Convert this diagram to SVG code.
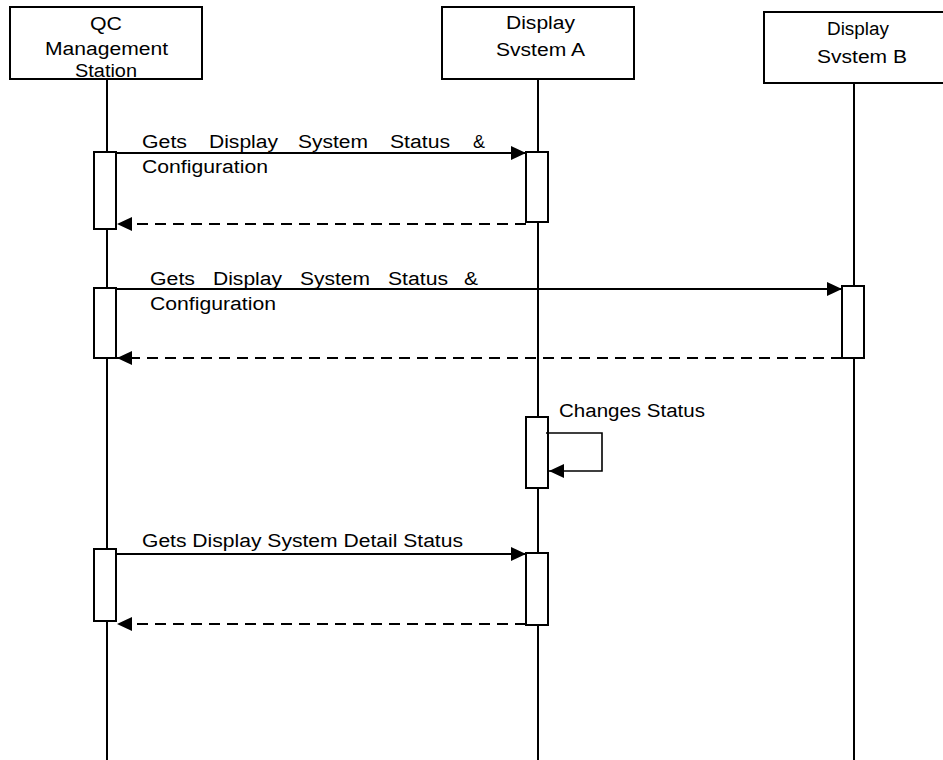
<svg xmlns="http://www.w3.org/2000/svg" width="943" height="760" viewBox="0 0 943 760">
<style>
  .box { fill: #ffffff; stroke: #000000; stroke-width: 2; }
  .life { stroke: #000000; stroke-width: 2; }
  .act { fill: #ffffff; stroke: #000000; stroke-width: 2; }
  .msg { stroke: #000000; stroke-width: 2; fill: none; marker-end: url(#arrow); }
  .self { stroke: #000000; stroke-width: 1.6; fill: none; marker-end: url(#arrow); }
  .ret { stroke: #000000; stroke-width: 2; fill: none; stroke-dasharray: 11 7; marker-end: url(#arrow); }
  .t { font-family: "Liberation Sans", Arial, sans-serif; font-size: 18px; fill: #000000; }
  .c { text-anchor: middle; }
</style>
<defs>
  <marker id="arrow" markerUnits="userSpaceOnUse" markerWidth="15" markerHeight="14" refX="15" refY="7" orient="auto">
    <path d="M0,0 L15,7 L0,14 z" fill="#000000"/>
  </marker>
</defs>
<rect width="943" height="760" fill="#ffffff"/>

<g id="qc-station">
  <line class="life" x1="107" y1="79" x2="107" y2="760"/>
  <rect class="box" x="10" y="7" width="192" height="72"/>
  <text class="t c" x="106" y="30" textLength="32" lengthAdjust="spacingAndGlyphs">QC</text>
  <text class="t c" x="106.5" y="55" textLength="123" lengthAdjust="spacingAndGlyphs">Management</text>
  <text class="t c" x="106" y="77" textLength="62" lengthAdjust="spacingAndGlyphs">Station</text>
</g>

<g id="display-a">
  <line class="life" x1="538" y1="79" x2="538" y2="760"/>
  <rect class="box" x="442" y="7" width="192" height="72"/>
  <text class="t c" x="540.5" y="29" textLength="69" lengthAdjust="spacingAndGlyphs">Display</text>
  <text class="t c" x="540.5" y="56" textLength="89" lengthAdjust="spacingAndGlyphs">Svstem A</text>
</g>

<g id="display-b">
  <line class="life" x1="854" y1="83" x2="854" y2="760"/>
  <rect class="box" x="764" y="12" width="200" height="71"/>
  <text class="t c" x="858" y="35" textLength="62" lengthAdjust="spacingAndGlyphs">Display</text>
  <text class="t c" x="862" y="63" textLength="90" lengthAdjust="spacingAndGlyphs">Svstem B</text>
</g>

<g id="activations">
  <rect class="act" x="94" y="152" width="22" height="77"/>
  <rect class="act" x="526" y="152" width="22" height="70"/>
  <rect class="act" x="94" y="288" width="22" height="70"/>
  <rect class="act" x="842" y="286" width="22" height="72"/>
  <rect class="act" x="526" y="417" width="22" height="71"/>
  <rect class="act" x="94" y="549" width="22" height="72"/>
  <rect class="act" x="526" y="553" width="22" height="72"/>
</g>

<g id="connectors">
  <line class="msg" x1="117" y1="153" x2="526" y2="153"/>
  <line class="ret" x1="526" y1="224" x2="117" y2="224"/>
  <line class="msg" x1="117" y1="289" x2="842" y2="289"/>
  <line class="ret" x1="842" y1="358" x2="117" y2="358"/>
  <polyline class="self" points="546,433 602,433 602,471 549,471"/>
  <line class="msg" x1="117" y1="554" x2="526" y2="554"/>
  <line class="ret" x1="526" y1="624" x2="117" y2="624"/>
</g>

<g id="labels">
  <text class="t" y="148"><tspan x="142" textLength="45" lengthAdjust="spacingAndGlyphs">Gets</tspan><tspan x="209" textLength="69" lengthAdjust="spacingAndGlyphs">Display</tspan><tspan x="298" textLength="70" lengthAdjust="spacingAndGlyphs">System</tspan><tspan x="390" textLength="60" lengthAdjust="spacingAndGlyphs">Status</tspan><tspan x="473" textLength="12" lengthAdjust="spacingAndGlyphs">&amp;</tspan></text>
  <text class="t" x="142" y="173" textLength="126" lengthAdjust="spacingAndGlyphs">Configuration</text>
  <text class="t" y="285"><tspan x="150" textLength="45" lengthAdjust="spacingAndGlyphs">Gets</tspan><tspan x="213" textLength="69" lengthAdjust="spacingAndGlyphs">Display</tspan><tspan x="300" textLength="70" lengthAdjust="spacingAndGlyphs">System</tspan><tspan x="388" textLength="60" lengthAdjust="spacingAndGlyphs">Status</tspan><tspan x="464" textLength="14" lengthAdjust="spacingAndGlyphs">&amp;</tspan></text>
  <text class="t" x="150" y="310" textLength="126" lengthAdjust="spacingAndGlyphs">Configuration</text>
  <text class="t" x="559" y="417" textLength="146" lengthAdjust="spacingAndGlyphs">Changes Status</text>
  <text class="t" x="142" y="547" textLength="321" lengthAdjust="spacingAndGlyphs">Gets Display System Detail Status</text>
</g>
</svg>
